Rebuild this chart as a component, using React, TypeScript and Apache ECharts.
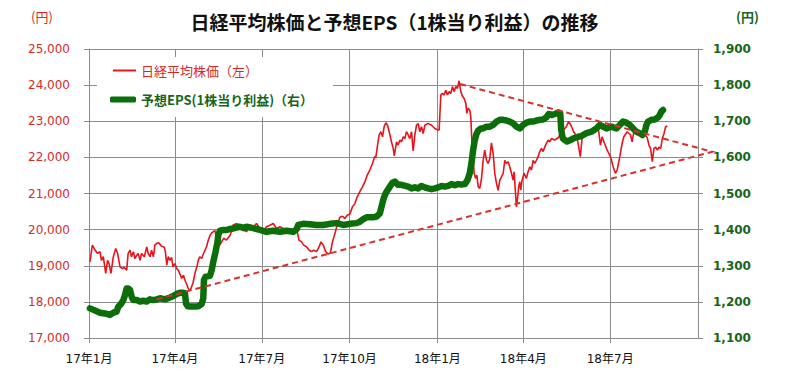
import { useEffect, useRef } from "react";
import * as echarts from "echarts";

// x values are days counted from 2017-01-01
const tickDays = [0, 90, 181, 273, 365, 455, 546];
const tickLabels = ["17年1月", "17年4月", "17年7月", "17年10月", "18年1月", "18年4月", "18年7月"];
const xMaxDay = 638;

const leftTicks = { min: 17000, max: 25000, step: 1000 };
const rightTicks = { min: 1100, max: 1900, step: 100 };

const nikkeiName = "日経平均株価（左）";
const epsName = "予想EPS(1株当り利益)（右）";
const titleText = "日経平均株価と予想EPS（1株当り利益）の推移";

// 日経平均株価 (left axis): [day, value]
const nikkei: [number, number][] = [
  [1, 19110], [3.5, 19570], [6, 19450], [9, 19340], [11.5, 19390], [13, 19150], [15, 19250], [17.5, 18790],
  [19.5, 19150], [21, 19060], [23, 18790], [25.5, 19250], [28, 19480], [30, 19340], [32.5, 18970], [35, 18920],
  [37, 18950], [39.5, 18880], [41, 19340], [43, 19430], [44.5, 19250], [46.5, 19390], [48, 19200], [50, 19290],
  [51.5, 19340], [53.5, 19150], [55, 19340], [58, 19250], [60.5, 19520], [62, 19340], [64, 19250], [65.5, 19430],
  [67.5, 19250], [69, 19570], [71, 19620], [73, 19640], [76, 19540], [79, 19510], [80, 19390], [81.5, 19020],
  [83, 19250], [85, 19150], [86.5, 19230], [88, 18970], [90, 19060], [92, 18920], [93.5, 18880], [95, 18790],
  [97, 18650], [99, 18740], [100.5, 18600], [102, 18510], [104, 18370], [106, 18310], [107.5, 18420], [109, 18530],
  [111, 18790], [113, 18970], [114.5, 19150], [116, 19250], [118, 19200], [120, 19340], [121.5, 19430], [123, 19520],
  [125, 19710], [127, 19850], [128.5, 19910], [130, 19940], [132, 19970], [134, 19710], [137, 19570], [141, 19760],
  [144, 19710], [148, 19850], [151, 20130], [155, 20170], [158, 20080], [161, 20120], [165, 19940], [168.5, 20120],
  [172, 20080], [175.5, 20170], [179, 20030], [182.5, 19940], [186, 20080], [189.5, 20120], [193, 20170], [196.5, 20030],
  [200, 20080], [203.5, 20030], [207, 19990], [210.5, 19940], [214, 19890], [217.5, 20030], [220, 19710], [222.7, 19660],
  [225, 19570], [228, 19520], [230.7, 19430], [233, 19390], [235.6, 19430], [238.4, 19390], [241, 19520], [243, 19660],
  [245.4, 19570], [248, 19390], [250.6, 19320], [253, 19360], [255, 19660], [257.6, 19890], [260, 20120], [262.8, 20340],
  [265.6, 20370], [268, 20310], [270.5, 20400], [273.3, 20430], [276, 20630], [278.5, 20720], [281, 20910], [283.8, 21050],
  [286.6, 21190], [289, 21320], [291.5, 21510], [294.2, 21650], [297, 21830], [299.2, 22020], [300.5, 22000], [302.3, 22340],
  [304, 22620], [305.8, 22710], [307.5, 22570], [309.2, 22850], [311, 22960], [312.7, 22890], [314.5, 22710], [316.9, 22430],
  [318.7, 22250], [319.8, 22040], [322.2, 22430], [323.9, 22340], [325.7, 22480], [327.4, 22430], [329.2, 22570], [330.9, 22520],
  [332.6, 22710], [334.4, 22620], [336.1, 22520], [337.9, 22710], [339.6, 22180], [341.4, 22620], [343.1, 22890], [344.8, 22940],
  [346.6, 22710], [348.3, 22850], [350.1, 22660], [351.8, 22890], [355.3, 22940], [358.8, 22890], [362.3, 22800], [365.1, 22760],
  [366.8, 22760], [368.6, 23730], [370.3, 23770], [372, 23730], [373.8, 23860], [375.5, 23730], [377.3, 23820], [379, 23770],
  [380.8, 23960], [382.5, 23820], [384.3, 23960], [386, 23910], [387.7, 24120], [389.5, 23820], [391.2, 23700], [393, 23630],
  [394.7, 23500], [395.8, 23220], [397.2, 23360], [398.9, 23310], [400, 23120], [401.4, 22250], [402.5, 21920], [403.5, 21560],
  [404.9, 21420], [406.3, 21510], [407.7, 21190], [409.4, 21140], [411.2, 21420], [412.9, 21920], [414.6, 22200], [416.4, 21920],
  [418.1, 21830], [419.9, 21970], [421.6, 22400], [423.4, 22110], [425.1, 21560], [426.9, 21280], [428.6, 21090], [430.4, 21370],
  [432.1, 21460], [433.9, 21560], [435.6, 21920], [437.3, 21830], [439.1, 21880], [440.8, 21740], [442.6, 21560], [444.3, 21370],
  [445.4, 21600], [446.7, 21050], [447.8, 20630], [448.8, 20820], [450.2, 21190], [451.3, 21320], [452.3, 21090], [453.7, 21370],
  [455.8, 21560], [458.2, 21420], [460, 21600], [461.8, 21740], [463.5, 21650], [465.3, 21920], [467, 21830], [468.7, 21920],
  [470.5, 22020], [472.2, 22160], [474, 22250], [475.7, 22160], [477.5, 22290], [479.2, 22390], [481, 22480], [482.7, 22430],
  [484.5, 22520], [488, 22480], [491.9, 22550], [494.4, 22710], [497.2, 22760], [500, 22850], [502.5, 22990], [504.9, 22890],
  [507.7, 22710], [511.2, 22570], [513, 22290], [514.7, 22020], [516.5, 22520], [518.9, 22620], [521.8, 22620], [525.3, 22710],
  [528.8, 22760], [532.3, 22890], [534, 22710], [535.8, 22340], [537.5, 22570], [540, 22390], [542.8, 22200], [546.3, 22020],
  [549.1, 21740], [551.5, 21560], [553.3, 21650], [556.1, 22020], [558.5, 22390], [560.3, 22570], [563.8, 22710], [567.3, 22620],
  [569, 22430], [570.8, 22710], [574.3, 22660], [577.8, 22620], [581.3, 22650], [584.8, 22550], [586.6, 22340], [588.3, 22250],
  [590.1, 21880], [591.9, 22250], [593.6, 22280], [595.4, 22200], [597.1, 22280], [598.9, 22250], [600.6, 22520], [602.4, 22660],
  [604.1, 22850], [605.9, 22870],
];

// 予想EPS (right axis): [day, value]
const eps: [number, number][] = [
  [1, 1182], [6.3, 1176], [11.5, 1170], [16.8, 1168], [22, 1164], [25.5, 1170], [29, 1173], [30.7, 1187],
  [33.5, 1194], [36, 1205], [37.7, 1219], [39.4, 1237], [41.2, 1237], [43, 1233], [44.7, 1214], [46.4, 1205],
  [50, 1205], [53.4, 1201], [56.9, 1203], [60.4, 1201], [63.9, 1207], [67.4, 1205], [70.9, 1207], [74.4, 1210],
  [79.6, 1207], [84.8, 1212], [88.3, 1216], [91.8, 1222], [95.3, 1225], [98.8, 1225], [100.5, 1224], [101.6, 1196],
  [103.3, 1188], [106.8, 1187], [111, 1187], [114.5, 1188], [118, 1194], [119.7, 1210], [120.4, 1260], [122.2, 1270],
  [126.7, 1272], [128.5, 1288], [130.2, 1311], [132.6, 1339], [134.7, 1367], [135.4, 1385], [137.2, 1397], [140.7, 1399],
  [144.2, 1399], [147.7, 1402], [151.2, 1403], [154.6, 1406], [158, 1408], [162.6, 1404], [165, 1408], [172, 1404],
  [179, 1399], [186, 1394], [193, 1397], [200, 1394], [207, 1397], [214, 1394], [217.5, 1401], [219.2, 1413],
  [224.4, 1416], [231.4, 1415], [238.4, 1413], [245.4, 1413], [252.4, 1416], [259.4, 1418], [266.3, 1413], [273.3, 1416],
  [280.3, 1418], [283.8, 1422], [287.3, 1429], [290.8, 1434], [294.2, 1434], [297.7, 1434], [301.2, 1436], [304.7, 1445],
  [306.5, 1464], [308.2, 1482], [310, 1496], [311.7, 1505], [315.2, 1519], [318, 1530], [320.4, 1533], [323.9, 1524],
  [327.4, 1524], [334.4, 1519], [337.9, 1514], [341.4, 1517], [344.8, 1514], [348.3, 1521], [351.8, 1517], [355.3, 1514],
  [358.8, 1512], [362.3, 1514], [365.8, 1517], [369.3, 1521], [372.8, 1519], [376.3, 1521], [379.8, 1526], [383.2, 1523],
  [386.7, 1526], [390.2, 1525], [393.7, 1526], [396.5, 1537], [398.9, 1556], [400.7, 1584], [402.4, 1620], [404.2, 1648],
  [405.9, 1665], [407.7, 1674], [410.5, 1680], [412.9, 1680], [416.4, 1685], [419.9, 1685], [423.4, 1690], [426.9, 1699],
  [430.4, 1704], [433.9, 1704], [437.3, 1702], [440.8, 1699], [444.3, 1694], [447.8, 1685], [451.3, 1680], [454.8, 1690],
  [458.3, 1696], [461.8, 1699], [465.3, 1699], [468.7, 1702], [472.2, 1704], [475.7, 1705], [479.2, 1711], [481.7, 1720],
  [484.5, 1717], [488, 1720], [491.9, 1724], [493.7, 1722], [494.7, 1676], [496.3, 1653], [498.4, 1648], [500.8, 1644],
  [504.4, 1648], [507.9, 1653], [512.4, 1657], [515.9, 1659], [521.1, 1667], [526.4, 1671], [531.6, 1680], [535.1, 1690],
  [538.6, 1685], [542.1, 1680], [547.3, 1685], [552.6, 1680], [556.1, 1690], [559.5, 1699], [563, 1696], [566.5, 1690],
  [570, 1680], [573.5, 1671], [577, 1667], [579.8, 1662], [582.2, 1671], [584, 1690], [585.7, 1699], [589.2, 1704],
  [592.7, 1705], [596.2, 1711], [597.9, 1717], [599.7, 1727], [601.4, 1731],
];

// Triangle (trend) lines on the left axis: lower start → apex → upper start
const trendLine: [number, number][] = [[71, 18070], [653, 22155], [386, 24050]];

const GRID_GRAY = "#8c8c8c";
const RED = "#e8141c";
const GREEN = "#0b6e0b";
const TREND = "#d9302c";
const CJK = "'Noto Sans CJK JP', sans-serif";
const NUM = "'DejaVu Sans', 'Noto Sans CJK JP', sans-serif";

export default function App() {
  const ref = useRef<HTMLDivElement>(null);
  useEffect(() => {
    if (!ref.current) return;
    const chart = echarts.init(ref.current, undefined, { renderer: "svg" });
    const baseGraphic: any[] = [
      { id: "legendBox", type: "rect", z: 1, shape: { x: 97, y: 57, width: 236, height: 60 }, style: { fill: "#ffffff" }, silent: true },
      { id: "unitL", type: "text", left: 31, top: 10, style: { text: "(円)", fill: "#d42a2a", font: `13px ${CJK}` } },
      { id: "unitR", type: "text", left: 736, top: 10, style: { text: "(円)", fill: "#17661a", font: `bold 13px ${CJK}` } },
    ];
    chart.setOption({
      animation: false,
      backgroundColor: "#ffffff",
      title: {
        text: titleText,
        left: "center",
        top: 7,
        textStyle: { fontSize: 19, fontWeight: "bold", color: "#111", fontFamily: CJK },
      },
      grid: { left: 89, right: 91, top: 49, bottom: 40, containLabel: false },
      legend: [
        {
          data: [nikkeiName],
          left: 113,
          top: 64,
          padding: 0,
          icon: "rect",
          itemWidth: 23,
          itemHeight: 2,
          textStyle: { color: "#d42a2a", fontSize: 13, fontFamily: CJK },
          z: 5,
        },
        {
          data: [epsName],
          left: 110,
          top: 93,
          padding: 0,
          icon: "roundRect",
          itemWidth: 26,
          itemHeight: 6,
          textStyle: { color: "#17661a", fontSize: 13, fontWeight: "bold", fontFamily: CJK },
          z: 5,
        },
      ],
      graphic: baseGraphic,
      xAxis: {
        type: "value",
        min: 0,
        max: xMaxDay,
        axisLine: { show: true, lineStyle: { color: GRID_GRAY, width: 1 } },
        axisTick: { show: true, customValues: tickDays, length: 5, lineStyle: { color: GRID_GRAY } },
        axisLabel: {
          customValues: tickDays,
          formatter: (v: number) => {
            const i = tickDays.indexOf(Math.round(v));
            return i >= 0 ? tickLabels[i] : "";
          },
          color: "#111",
          fontSize: 12,
          margin: 15,
          fontFamily: NUM,
        },
        splitLine: { show: true, lineStyle: { color: GRID_GRAY, width: 1 } },
      },
      yAxis: [
        {
          type: "value",
          position: "left",
          min: leftTicks.min,
          max: leftTicks.max,
          interval: leftTicks.step,
          axisLine: { show: true, lineStyle: { color: GRID_GRAY } },
          axisTick: { show: true, length: 5, lineStyle: { color: GRID_GRAY } },
          axisLabel: {
            color: "#d42a2a",
            fontSize: 12,
            margin: 19,
            fontFamily: NUM,
            formatter: (v: number) => v.toLocaleString("en-US"),
          },
          splitLine: { show: true, lineStyle: { color: GRID_GRAY, width: 1 } },
        },
        {
          type: "value",
          position: "right",
          min: rightTicks.min,
          max: rightTicks.max,
          interval: rightTicks.step,
          axisLine: { show: true, lineStyle: { color: GRID_GRAY } },
          axisTick: { show: true, length: 5, lineStyle: { color: GRID_GRAY } },
          axisLabel: {
            color: "#17661a",
            fontSize: 12,
            fontWeight: "bold",
            margin: 15,
            fontFamily: NUM,
            formatter: (v: number) => v.toLocaleString("en-US"),
          },
          splitLine: { show: false },
        },
      ],
      series: [
        {
          name: nikkeiName,
          type: "line",
          yAxisIndex: 0,
          data: nikkei,
          symbol: "none",
          z: 2,
          lineStyle: { color: RED, width: 1.6 },
          itemStyle: { color: RED },
        },
        {
          name: epsName,
          type: "line",
          yAxisIndex: 1,
          data: eps,
          symbol: "none",
          z: 3,
          lineStyle: { color: GREEN, width: 6.5, cap: "round", join: "round" },
          itemStyle: { color: GREEN },
        },
      ],
    });
    // Trend triangle: its apex lies beyond the x-axis maximum, so it is placed
    // through the chart's own scales (convertToPixel) and drawn unclipped.
    const pts = trendLine.map((p) => chart.convertToPixel({ xAxisIndex: 0, yAxisIndex: 0 }, p) as number[]);
    chart.setOption({
      graphic: [
        ...baseGraphic,
        {
          id: "trend",
          type: "polyline",
          z: 4,
          silent: true,
          shape: { points: pts },
          style: { stroke: TREND, lineWidth: 2, lineDash: [6, 4], fill: null },
        },
      ],
    });
    return () => chart.dispose();
  }, []);
  return <div ref={ref} style={{ position: "fixed", left: 0, top: 0, width: 789, height: 378 }} />;
}
